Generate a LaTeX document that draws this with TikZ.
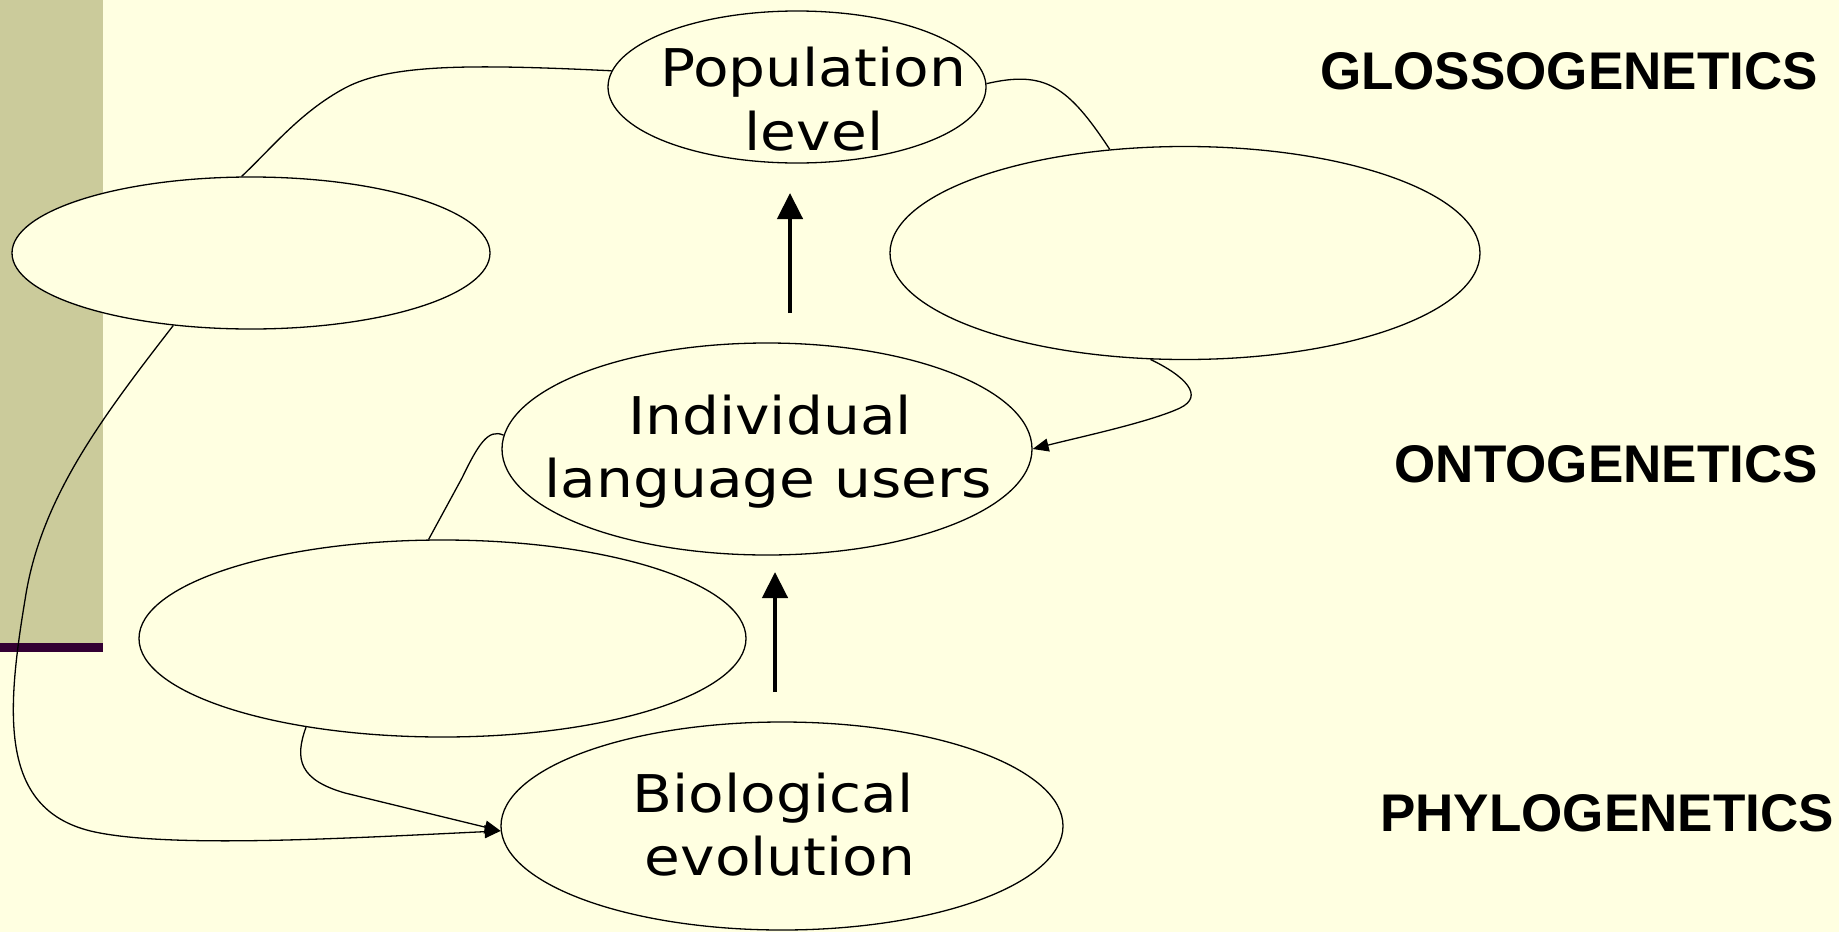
\documentclass[tikz,border=0pt]{standalone}
\usepackage{fontspec}
\usetikzlibrary{shapes.geometric,arrows.meta}
\newfontfamily\ellfont[FakeStretch=1.12]{DejaVu Sans}
\newfontfamily\lblfont{Liberation Sans}
\definecolor{bgc}{RGB}{255,255,225}
\definecolor{barc}{RGB}{203,203,155}
\definecolor{purp}{RGB}{51,0,51}
\tikzset{
  ell/.style={draw=black, fill=bgc, ellipse, line width=1.3pt, inner sep=0pt},
  etext/.style={anchor=base, inner sep=0pt, font=\ellfont\fontsize{52}{62}\selectfont},
  level/.style={anchor=base east, inner sep=0pt, font=\lblfont\bfseries\fontsize{53}{60}\selectfont},
  conn/.style={line width=1.3pt},
  thinarrow/.style={conn, -{Triangle[length=16pt,width=13pt]}},
  bigarrow/.style={line width=4.5pt, -{Triangle[length=26pt,width=25pt]}}
}
\begin{document}
\begin{tikzpicture}[x=1pt,y=-1pt]
\useasboundingbox (0,0) rectangle (1839,932);
\fill[bgc] (0,0) rectangle (1839,932);
\fill[barc] (0,0) rectangle (103,643);
\fill[purp] (0,643) rectangle (103,652);

% ellipses
\node[ell, minimum width=378pt, minimum height=152pt] (pop) at (797,87) {};
\node[ell, minimum width=478pt, minimum height=152pt] (ul) at (251,253) {};
\node[ell, minimum width=590pt, minimum height=213pt] (ur) at (1185,253) {};
\node[ell, minimum width=530pt, minimum height=212pt] (ind) at (767,449) {};
\node[ell, minimum width=607pt, minimum height=197pt] (ll) at (442.5,638.5) {};
\node[ell, minimum width=562pt, minimum height=208pt] (bio) at (782,826) {};

% texts
\node[etext] (popa) at (813,86) {Population};
\node[etext] (popb) at (814,150) {level};
\node[etext] (inda) at (770,434) {Individual};
\node[etext] (indb) at (768,497) {language users};
\node[etext] (bioa) at (773,812) {Biological};
\node[etext] (biob) at (780,875) {evolution};

\node[level] (glosso) at (1818,89) {GLOSSOGENETICS};
\node[level] (onto) at (1818,482) {ONTOGENETICS};
\node[level] (phylo) at (1834,831) {PHYLOGENETICS};

% thick arrows
\coordinate (a1s) at (790,313);
\coordinate (a1e) at (790,193);
\coordinate (a2s) at (775,692);
\coordinate (a2e) at (775,572);
\draw[bigarrow] (a1s) -- (a1e);
\draw[bigarrow] (a2s) -- (a2e);

% connectors
\draw[conn] (pop.175) .. controls (470,64) and (390,64) .. (345,88)
  .. controls (300,112) and (270,150) .. (ul.97);
\draw[conn] (pop.1) .. controls (1045,70) and (1068,86) .. (ur.126);
\draw[thinarrow] (ur.252) .. controls (1185,376) and (1205,396) .. (1180,408)
  .. controls (1150,422) and (1080,437) .. (ind.0);
\draw[conn] (ind.177) .. controls (488,428) and (478,445) .. (462,478) -- (ll.98);
\draw[thinarrow] (ul.223) .. controls (100,420) and (40,500) .. (25,600)
  .. controls (5,720) and (0,815) .. (100,833)
  .. controls (180,848) and (350,838) .. (bio.181);
\draw[thinarrow] (ll.213) .. controls (294,760) and (300,780) .. (345,793) -- (bio.181);
\end{tikzpicture}
\end{document}
